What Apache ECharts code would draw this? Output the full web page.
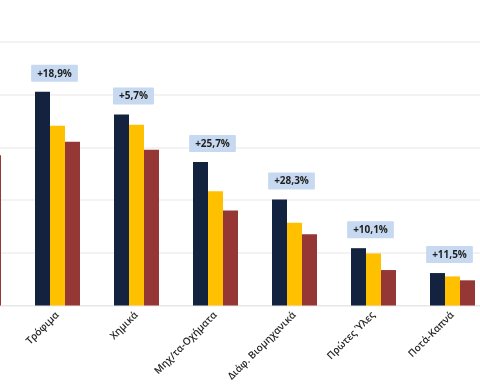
<!DOCTYPE html>
<html>
<head>
<meta charset="utf-8">
<script src="https://cdn.jsdelivr.net/npm/echarts@6/dist/echarts.min.js"></script>
<style>html,body{margin:0;padding:0;background:#fff;overflow:hidden;width:480px;height:384px;position:relative}#c{position:absolute;left:-61px;top:0;width:553px;height:384px}</style>
</head>
<body>
<div id="c"></div>
<script>
const categories = ['Καύσιμα','Τρόφιμα','Χημικά','Μηχ/τα-Οχήματα','Διάφ. Βιομηχανικά','Πρώτες Ύλες','Ποτά-Καπνά'];
const seriesNames = ['2022','2021','2019'];
const navyValues = [4800, 4057, 3623, 2723, 2013, 1088, 616];
const yellowValues = [4000, 3412, 3428, 2166, 1569, 988, 552];
const redValues = [2849, 3108, 2956, 1805, 1352, 673, 478];
const changeLabels = ['', '+18,9%', '+5,7%', '+25,7%', '+28,3%', '+10,1%', '+11,5%'];

const chart = echarts.init(document.getElementById('c'), null, {renderer:'canvas'});
const navyData = navyValues.map((v,i)=>({value:v, label:{show: changeLabels[i] !== ''}}));
chart.setOption({
  animation:false,
  grid:{left:0, right:0, top:42, bottom:77, containLabel:false},
  xAxis:{
    type:'category', data:categories,
    axisTick:{show:false},
    axisLine:{lineStyle:{color:'#e6e6e6', width:1}},
    axisLabel:{interval:0, rotate:45, fontSize:10, color:'#262626', fontFamily:'Open Sans', fontWeight:600, margin:8}
  },
  yAxis:{
    type:'value', min:0, max:5000, interval:1000,
    axisLabel:{show:false}, axisLine:{show:false}, axisTick:{show:false},
    splitLine:{lineStyle:{color:'#efefef', width:1.5}}
  },
  series:[
    {name:seriesNames[0], type:'bar', data:navyData, barWidth:15, barGap:'0%',
     itemStyle:{color:'#13233f'},
     label:{show:true, position:'top', distance:10, offset:[12,0],
       formatter:p=>changeLabels[p.dataIndex],
       backgroundColor:'#c6d9f0', padding:[4,6,3,6], borderRadius:1,
       fontSize:10, fontWeight:'bold', color:'#1f1f1f', fontFamily:'Open Sans'}},
    {name:seriesNames[1], type:'bar', data:yellowValues, barWidth:15, barGap:'0%',
     itemStyle:{color:'#ffc000'}},
    {name:seriesNames[2], type:'bar', data:redValues, barWidth:15, barGap:'0%',
     itemStyle:{color:'#953735'}}
  ]
});
</script>
</body>
</html>
